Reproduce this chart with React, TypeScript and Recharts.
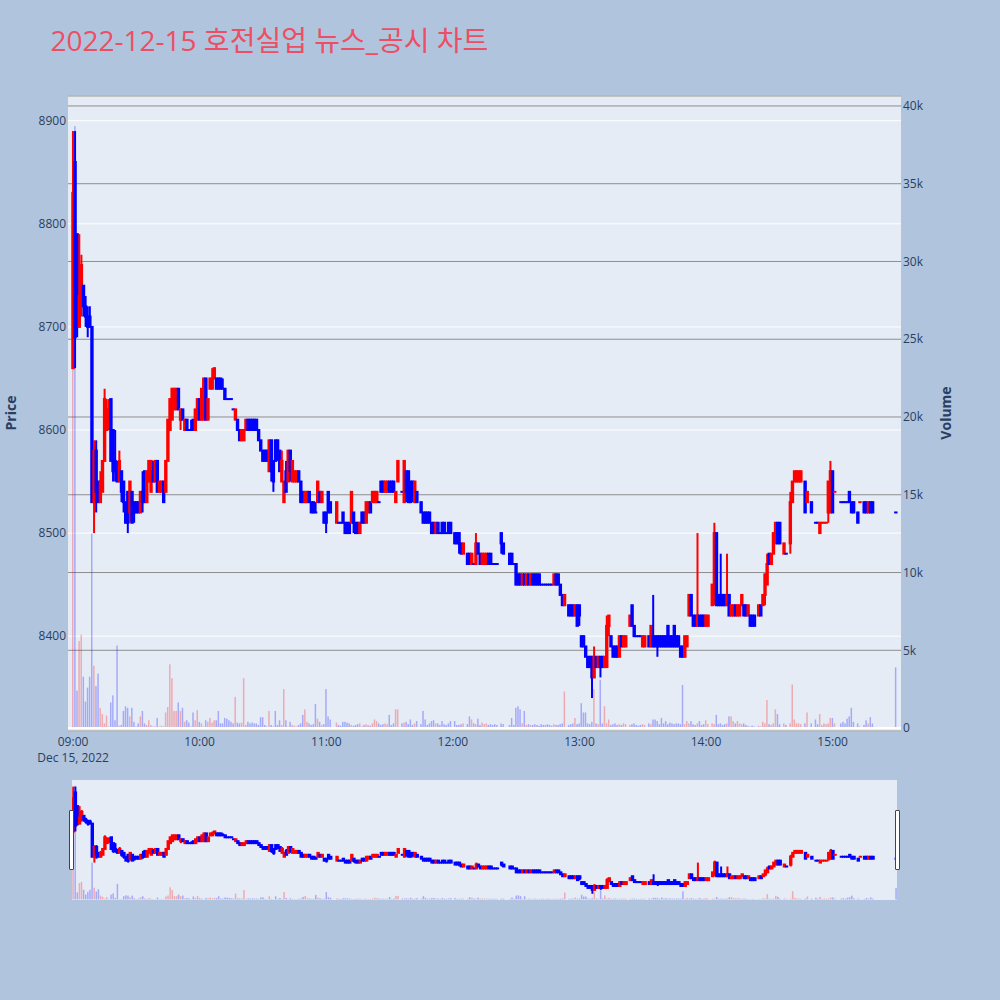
import React from 'react';
import { ComposedChart, Bar, XAxis, YAxis, CartesianGrid, ReferenceLine } from 'recharts';

// One entry per session minute, 09:00 (index 0) to the 15:30 close (index 390).
// null = no trade in that minute.
const opens: (number | null)[] = [
  8660, 8860, 8790, 8700, 8730, 8740, 8720, 8710, 8710, 8700, // 09:00
  8530, 8580, 8550, 8530, 8540, 8570, 8600, 8610, 8630, 8600,
  8570, 8560, 8550, 8560, 8550, 8530, 8540, 8520, 8540, 8530,
  8530, 8530, 8520, 8540, 8560, 8530, 8550, 8540, 8560, 8550,
  8570, 8540, 8540, 8550, 8540, 8570, 8600, 8610, 8620, 8620,
  8640, 8610, 8620, 8600, 8610, 8600, 8600, 8610, 8600, 8610,
  8630, 8610, 8610, 8650, 8610, 8640, 8640, 8650, 8650, 8650, // 10:00
  8650, 8640, 8640, 8630, 8630, 8630, 8620, 8610, 8610, 8600,
  8590, 8590, 8600, 8610, 8610, 8610, 8610, 8610, 8600, 8590,
  8580, 8580, 8580, 8560, 8590, 8570, 8590, 8590, 8580, 8550,
  8530, 8560, 8550, 8580, 8550, 8550, 8550, 8560, 8550, 8540,
  8530, 8530, 8540, 8530, 8530, 8520, 8530, 8540, 8530, 8520,
  8520, 8540, 8530, null, null, 8510, 8510, 8510, 8520, 8510, // 11:00
  8510, 8510, 8510, 8520, 8510, 8510, 8500, 8520, 8520, 8510,
  8520, 8530, 8530, 8530, 8530, 8530, 8550, 8550, 8540, 8540,
  8550, 8550, 8550, 8530, 8550, null, 8540, 8530, 8560, 8560,
  8550, 8550, 8530, 8540, null, 8530, 8520, 8520, 8520, 8520,
  8510, 8510, 8500, 8510, 8500, 8510, 8510, 8500, 8510, 8510,
  null, 8500, 8500, 8500, 8490, 8480, null, 8480, 8480, 8470, // 12:00
  8470, 8470, 8490, 8480, 8470, 8470, 8470, 8480, 8480, 8470,
  8470, 8470, null, 8500, 8490, null, null, 8480, 8480, 8470,
  8470, 8460, 8460, 8450, 8460, 8450, 8460, 8450, 8460, 8460,
  8460, 8460, 8450, 8450, 8450, 8450, 8450, 8450, 8450, 8460,
  8460, 8450, 8440, 8430, null, 8430, 8430, 8430, 8420, 8430,
  8430, 8400, 8400, 8390, 8380, 8380, 8380, 8360, 8380, 8370, // 13:00
  8380, 8380, 8370, 8370, 8410, 8400, 8390, 8390, 8390, 8380,
  8400, 8390, 8390, null, 8410, 8430, 8410, 8400, 8400, 8400,
  8390, 8390, null, 8400, 8390, 8400, 8400, 8400, 8400, 8400,
  8400, 8400, 8410, 8400, 8400, 8410, 8400, 8400, 8390, 8390,
  8380, 8390, 8420, 8440, 8420, 8420, 8410, 8420, 8420, 8420,
  8410, 8410, null, 8430, 8440, 8500, 8440, 8440, 8440, 8440, // 14:00
  8430, 8440, 8420, 8420, 8430, 8420, 8420, 8430, 8430, 8430,
  8420, 8420, 8420, 8420, null, 8420, 8430, 8430, 8440, 8450,
  8480, 8470, 8480, 8490, 8510, 8510, null, 8480, 8480, null,
  8490, 8530, 8550, 8550, 8550, 8550, null, 8550, 8530, null,
  8530, null, 8510, 8510, 8500, 8510, 8510, 8510, 8520, 8520,
  8560, 8540, null, null, 8530, 8530, 8530, 8530, 8540, 8530, // 15:00
  8530, null, 8520, 8530, null, 8530, 8530, 8520, 8530, 8530,
  null, null, null, null, null, null, null, null, null, null,
  8520,
];

const highs: (number | null)[] = [
  8890, 8890, 8790, 8790, 8770, 8740, 8730, 8720, 8720, 8700,
  8590, 8590, 8550, 8560, 8570, 8640, 8630, 8630, 8630, 8600,
  8600, 8570, 8580, 8560, 8550, 8530, 8540, 8550, 8540, 8530,
  8530, 8530, 8540, 8560, 8560, 8560, 8570, 8570, 8570, 8570,
  8570, 8550, 8550, 8550, 8570, 8610, 8630, 8640, 8640, 8640,
  8640, 8620, 8620, 8610, 8610, 8600, 8610, 8610, 8620, 8630,
  8630, 8640, 8650, 8650, 8630, 8650, 8660, 8660, 8650, 8650,
  8650, 8650, 8640, 8630, 8630, 8630, 8620, 8620, 8610, 8600,
  8600, 8600, 8610, 8610, 8610, 8610, 8610, 8610, 8600, 8590,
  8580, 8580, 8580, 8590, 8590, 8570, 8590, 8590, 8580, 8580,
  8550, 8570, 8580, 8580, 8570, 8560, 8560, 8560, 8550, 8540,
  8540, 8540, 8540, 8530, 8530, 8530, 8550, 8540, 8540, 8520,
  8520, 8540, 8530, null, null, 8530, 8510, 8510, 8520, 8510,
  8510, 8510, 8540, 8520, 8510, 8510, 8510, 8520, 8520, 8530,
  8530, 8530, 8540, 8540, 8540, 8530, 8550, 8550, 8550, 8550,
  8550, 8550, 8550, 8540, 8570, null, 8540, 8570, 8560, 8560,
  8550, 8550, 8550, 8540, null, 8530, 8520, 8520, 8520, 8520,
  8510, 8510, 8510, 8510, 8500, 8510, 8510, 8500, 8510, 8510,
  null, 8500, 8500, 8500, 8490, 8490, null, 8480, 8480, 8480,
  8470, 8500, 8490, 8480, 8480, 8480, 8480, 8480, 8480, 8470,
  8470, 8470, null, 8500, 8490, null, null, 8480, 8480, 8470,
  8470, 8460, 8460, 8460, 8460, 8460, 8460, 8460, 8460, 8460,
  8460, 8460, 8450, 8450, 8450, 8450, 8450, 8450, 8460, 8460,
  8460, 8450, 8440, 8440, null, 8430, 8430, 8430, 8430, 8430,
  8430, 8400, 8400, 8390, 8380, 8380, 8380, 8390, 8380, 8380,
  8380, 8380, 8380, 8420, 8420, 8400, 8390, 8390, 8390, 8400,
  8400, 8400, 8400, null, 8420, 8430, 8410, 8400, 8400, 8400,
  8400, 8400, null, 8400, 8410, 8440, 8400, 8400, 8400, 8400,
  8400, 8400, 8410, 8400, 8400, 8410, 8400, 8400, 8390, 8390,
  8400, 8400, 8440, 8440, 8420, 8420, 8500, 8420, 8420, 8420,
  8420, 8420, null, 8450, 8510, 8500, 8440, 8480, 8440, 8440,
  8480, 8440, 8430, 8430, 8430, 8430, 8430, 8440, 8430, 8430,
  8430, 8420, 8420, 8420, null, 8430, 8430, 8440, 8460, 8480,
  8480, 8480, 8500, 8510, 8510, 8510, null, 8490, 8480, null,
  8540, 8550, 8560, 8560, 8560, 8560, null, 8550, 8540, null,
  8530, null, 8510, 8510, 8510, 8510, 8510, 8510, 8550, 8570,
  8560, 8540, null, null, 8530, 8530, 8530, 8530, 8540, 8530,
  8530, null, 8520, 8530, null, 8530, 8530, 8530, 8530, 8530,
  null, null, null, null, null, null, null, null, null, null,
  8520,
];

const lows: (number | null)[] = [
  8660, 8660, 8690, 8700, 8710, 8710, 8700, 8690, 8700, 8530,
  8500, 8520, 8530, 8530, 8540, 8570, 8600, 8600, 8570, 8550,
  8550, 8550, 8550, 8530, 8520, 8510, 8500, 8510, 8510, 8510,
  8520, 8520, 8520, 8520, 8530, 8530, 8550, 8540, 8550, 8550,
  8540, 8540, 8540, 8530, 8540, 8570, 8600, 8610, 8620, 8620,
  8620, 8600, 8610, 8600, 8600, 8600, 8600, 8600, 8600, 8610,
  8610, 8610, 8610, 8610, 8610, 8640, 8640, 8650, 8640, 8640,
  8640, 8640, 8630, 8630, 8630, 8630, 8620, 8610, 8600, 8590,
  8590, 8590, 8600, 8600, 8600, 8600, 8600, 8600, 8590, 8580,
  8570, 8570, 8570, 8560, 8550, 8540, 8570, 8570, 8560, 8550,
  8530, 8540, 8550, 8550, 8550, 8550, 8550, 8550, 8530, 8530,
  8530, 8530, 8530, 8520, 8520, 8520, 8530, 8530, 8530, 8510,
  8500, 8520, 8520, null, null, 8510, 8510, 8510, 8510, 8500,
  8500, 8500, 8510, 8500, 8500, 8500, 8500, 8510, 8510, 8510,
  8520, 8520, 8530, 8530, 8530, 8530, 8540, 8540, 8540, 8540,
  8540, 8540, 8540, 8530, 8550, null, 8540, 8530, 8530, 8530,
  8530, 8530, 8530, 8530, null, 8520, 8510, 8510, 8510, 8510,
  8500, 8500, 8500, 8500, 8500, 8500, 8500, 8500, 8500, 8500,
  null, 8490, 8490, 8480, 8480, 8480, null, 8470, 8470, 8470,
  8470, 8470, 8480, 8470, 8470, 8470, 8470, 8470, 8470, 8470,
  8470, 8470, null, 8480, 8480, null, null, 8470, 8470, 8470,
  8450, 8450, 8450, 8450, 8450, 8450, 8450, 8450, 8450, 8450,
  8450, 8450, 8450, 8450, 8450, 8450, 8450, 8450, 8450, 8450,
  8450, 8440, 8430, 8430, null, 8420, 8420, 8420, 8420, 8410,
  8410, 8390, 8390, 8380, 8370, 8370, 8340, 8360, 8370, 8370,
  8360, 8370, 8370, 8370, 8400, 8390, 8380, 8380, 8380, 8380,
  8390, 8390, 8390, null, 8410, 8410, 8400, 8400, 8400, 8400,
  8390, 8390, null, 8390, 8390, 8390, 8390, 8380, 8390, 8390,
  8390, 8390, 8390, 8390, 8390, 8390, 8390, 8390, 8380, 8380,
  8380, 8390, 8420, 8420, 8410, 8410, 8410, 8410, 8410, 8410,
  8410, 8410, null, 8430, 8430, 8430, 8430, 8430, 8430, 8430,
  8430, 8420, 8420, 8420, 8420, 8420, 8420, 8430, 8420, 8420,
  8420, 8410, 8410, 8410, null, 8420, 8420, 8430, 8430, 8450,
  8470, 8470, 8480, 8490, 8490, 8490, null, 8480, 8480, null,
  8480, 8530, 8550, 8550, 8550, 8550, null, 8520, 8530, null,
  8520, null, 8510, 8510, 8500, 8510, 8510, 8510, 8510, 8520,
  8520, 8540, null, null, 8530, 8530, 8530, 8530, 8530, 8520,
  8520, null, 8510, 8530, null, 8520, 8520, 8520, 8520, 8520,
  null, null, null, null, null, null, null, null, null, null,
  8520,
];

const closes: (number | null)[] = [
  8830, 8690, 8700, 8730, 8760, 8720, 8710, 8700, 8700, 8530,
  8580, 8540, 8530, 8550, 8570, 8630, 8620, 8620, 8570, 8560,
  8560, 8550, 8570, 8540, 8530, 8510, 8510, 8550, 8510, 8520,
  8520, 8520, 8540, 8530, 8530, 8560, 8570, 8570, 8550, 8570,
  8540, 8550, 8550, 8530, 8570, 8610, 8630, 8640, 8640, 8640,
  8620, 8620, 8610, 8610, 8600, 8600, 8600, 8600, 8620, 8630,
  8610, 8640, 8650, 8610, 8630, 8650, 8650, 8660, 8640, 8640,
  8640, 8640, 8630, 8630, 8630, 8630, 8620, 8620, 8600, 8590,
  8600, 8600, 8610, 8600, 8600, 8600, 8600, 8600, 8590, 8580,
  8570, 8570, 8570, 8590, 8560, 8550, 8570, 8580, 8560, 8570,
  8550, 8540, 8580, 8560, 8570, 8560, 8560, 8550, 8530, 8530,
  8540, 8540, 8530, 8520, 8520, 8520, 8550, 8530, 8540, 8510,
  8510, 8520, 8520, null, null, 8530, 8510, 8510, 8510, 8500,
  8500, 8500, 8540, 8510, 8500, 8500, 8510, 8510, 8510, 8530,
  8530, 8520, 8540, 8540, 8540, 8530, 8540, 8540, 8550, 8550,
  8540, 8540, 8540, 8540, 8570, null, 8540, 8570, 8540, 8530,
  8530, 8540, 8550, 8530, null, 8520, 8510, 8510, 8510, 8510,
  8500, 8500, 8510, 8500, 8500, 8500, 8500, 8500, 8500, 8500,
  null, 8490, 8490, 8490, 8480, 8490, null, 8470, 8470, 8480,
  8470, 8490, 8480, 8470, 8480, 8480, 8480, 8470, 8470, 8470,
  8470, 8470, null, 8490, 8480, null, null, 8470, 8470, 8470,
  8450, 8450, 8450, 8460, 8450, 8460, 8450, 8460, 8450, 8450,
  8450, 8450, 8450, 8450, 8450, 8450, 8450, 8450, 8460, 8450,
  8450, 8440, 8430, 8440, null, 8420, 8420, 8420, 8430, 8410,
  8420, 8390, 8390, 8380, 8370, 8370, 8360, 8380, 8370, 8380,
  8370, 8370, 8380, 8410, 8420, 8390, 8380, 8380, 8380, 8400,
  8390, 8400, 8400, null, 8420, 8410, 8400, 8400, 8400, 8400,
  8400, 8400, null, 8390, 8410, 8390, 8390, 8390, 8390, 8390,
  8390, 8390, 8390, 8390, 8390, 8390, 8390, 8390, 8380, 8380,
  8400, 8400, 8440, 8420, 8410, 8410, 8420, 8410, 8410, 8410,
  8420, 8420, null, 8450, 8500, 8430, 8430, 8430, 8430, 8430,
  8440, 8420, 8430, 8430, 8420, 8430, 8430, 8440, 8420, 8420,
  8430, 8410, 8410, 8410, null, 8430, 8420, 8440, 8460, 8470,
  8470, 8480, 8500, 8510, 8490, 8490, null, 8490, 8480, null,
  8530, 8550, 8560, 8560, 8560, 8560, null, 8520, 8540, null,
  8520, null, 8510, 8510, 8510, 8510, 8510, 8510, 8550, 8560,
  8520, 8540, null, null, 8530, 8530, 8530, 8530, 8530, 8520,
  8520, null, 8510, 8530, null, 8520, 8520, 8530, 8520, 8520,
  null, null, null, null, null, null, null, null, null, null,
  8520,
];

const volumes: (number | null)[] = [
  38400, 38700, 2400, 5600, 6000, 3300, 1700, 2600, 3300, 12500,
  4000, 2700, 3500, 1300, 900, 300, 800, 100, 1650, 2100,
  500, 5300, 150, 200, 1100, 1400, 1300, 750, 1300, 400,
  100, 300, 750, 1100, 300, 200, 500, 200, 100, 100,
  650, 100, 150, 100, 1000, 1350, 4100, 3200, 1100, 1100,
  1650, 1100, 1300, 400, 500, 350, 100, 1000, 500, 1150,
  400, 300, 100, 500, 400, 650, 350, 500, 500, 1100,
  300, 300, 650, 600, 500, 400, 300, 2000, 350, 300,
  350, 3200, 200, 400, 300, 350, 300, 300, 200, 700,
  700, 200, 100, 1100, 200, 100, 1100, 200, 500, 200,
  2500, 500, 100, 400, 200, 150, 100, 200, 300, 850,
  1200, 400, 300, 200, 250, 1550, 600, 400, 200, 250,
  2500, 750, 550, null, null, 350, 200, 150, 400, 400,
  350, 300, 200, 150, 200, 250, 300, 100, 200, 250,
  200, 150, 300, 550, 450, 300, 200, 250, 300, 250,
  850, 200, 300, 1200, 1200, null, 300, 350, 400, 250,
  550, 200, 300, 450, null, 250, 1100, 550, 200, 300,
  450, 500, 300, 300, 200, 450, 250, 200, 300, 450,
  null, 450, 200, 200, 250, 300, null, 250, 750, 550,
  300, 250, 600, 200, 350, 250, 300, 200, 250, 200,
  250, 200, null, 300, 250, null, null, 200, 650, 200,
  1300, 1400, 1200, 300, 1100, 200, 250, 200, 200, 250,
  200, 150, 250, 200, 200, 250, 200, 150, 250, 200,
  200, 250, 300, 2350, null, 200, 250, 300, 650, 250,
  300, 1600, 1000, 1000, 300, 250, 400, 2500, 300, 250,
  3100, 300, 1400, 300, 550, 200, 250, 300, 200, 250,
  200, 300, 250, null, 200, 250, 300, 200, 150, 200,
  250, 200, null, 300, 250, 550, 550, 450, 250, 650,
  300, 450, 250, 350, 300, 250, 300, 300, 250, 2770,
  250, 450, 300, 450, 250, 200, 300, 450, 200, 250,
  500, 250, null, 300, 250, 850, 250, 300, 200, 250,
  300, 750, 750, 450, 300, 450, 300, 250, 300, 200,
  150, 100, 150, 100, null, 150, 100, 400, 300, 1800,
  250, 200, 300, 1200, 900, 250, null, 300, 200, null,
  300, 2800, 550, 300, 300, 250, null, 300, 1000, null,
  300, null, 550, 250, 900, 200, 300, 250, 300, 650,
  650, 300, null, null, 300, 400, 300, 600, 750, 1300,
  400, null, 300, 100, null, 200, 500, 300, 700, 300,
  null, null, null, null, null, null, null, null, null, null,
  3900,
];

const priceTicks = [8400, 8500, 8600, 8700, 8800, 8900];
const volumeTicks = [0, 5000, 10000, 15000, 20000, 25000, 30000, 35000, 40000];
const timeTicks = [0, 60, 120, 180, 240, 300, 360];
const timeLabels = ['09:00', '10:00', '11:00', '12:00', '13:00', '14:00', '15:00'];

const UP = '#ff0000';
const DOWN = '#0000ff';
const FONT = '"Open Sans", "Noto Sans CJK KR", sans-serif';
const INK = '#2a3f5f';

type Row = {
  t: number;
  open: number;
  high: number;
  low: number;
  close: number;
  range: [number, number];
  volume: number;
  up: boolean;
};

// flat minutes take their colour from the move against the previous close
const rows: Row[] = [];
let prevClose: number | null = null;
let prevUp = false;
opens.forEach((o, t) => {
  const h = highs[t];
  const l = lows[t];
  const c = closes[t];
  if (o == null || h == null || l == null || c == null) return;
  let up: boolean;
  if (c > o) up = true;
  else if (c < o) up = false;
  else if (prevClose != null && c !== prevClose) up = c > prevClose;
  else up = prevUp;
  rows.push({ t, open: o, high: h, low: l, close: c, range: [l, h], volume: volumes[t] ?? 0, up });
  prevClose = c;
  prevUp = up;
});

const BODY_W = 3.4;
const WICK_W = 2;

const Candle = (props: any) => {
  const { x, width, payload } = props;
  let { y, height } = props;
  if (!payload || y == null || Number.isNaN(y)) return null;
  if (height < 0) {
    y += height;
    height = -height;
  }
  const { open, close, high, low, up } = payload as Row;
  const color = up ? UP : DOWN;
  const cx = x + width / 2;
  const perUnit = high > low ? height / (high - low) : 0;
  const yOf = (v: number) => y + (high - v) * perUnit;
  const top = yOf(Math.max(open, close));
  const bottom = yOf(Math.min(open, close));
  return (
    <g>
      <rect x={cx - WICK_W / 2} y={y} width={WICK_W} height={Math.max(height, 0)} fill={color} />
      <rect x={cx - BODY_W / 2} y={top - 1} width={BODY_W} height={bottom - top + 2} fill={color} />
    </g>
  );
};

const VolumeBar = (props: any) => {
  const { x, y, width, height, payload } = props;
  if (!payload || !height) return null;
  const top = height < 0 ? y + height : y;
  return (
    <rect
      x={x}
      y={top}
      width={width}
      height={Math.abs(height)}
      fill={payload.up ? 'rgba(255,0,0,0.28)' : 'rgba(0,0,255,0.28)'}
    />
  );
};

const TimeTick = (props: any) => {
  const { x, y, payload } = props;
  const idx = timeTicks.indexOf(payload.value);
  return (
    <g>
      <text x={x} y={y + 8.5} textAnchor="middle" fontSize={12} fontFamily={FONT} fill={INK}>
        {timeLabels[idx]}
      </text>
      {payload.value === 0 && (
        <text x={x} y={y + 25} textAnchor="middle" fontSize={12} fontFamily={FONT} fill={INK}>
          Dec 15, 2022
        </text>
      )}
    </g>
  );
};

const tickStyle = { fill: INK, fontSize: 12, fontFamily: FONT };
const formatVolume = (v: number) => (v === 0 ? '0' : `${v / 1000}k`);

const MAIN_X: [number, number] = [-2.4, 392.4];
const SLIDER_X: [number, number] = [-0.66, 390.3];
const PRICE_Y: [number, number] = [8308, 8924];
const VOL_Y: [number, number] = [-190, 40640];

export default function App() {
  return (
    <div
      style={{
        position: 'absolute',
        left: 0,
        top: 0,
        width: 1000,
        height: 1000,
        background: '#b0c4de',
        overflow: 'hidden',
      }}
    >
      <div style={{ position: 'absolute', left: 0, top: 0 }}>
        <ComposedChart width={1000} height={800} data={rows} margin={{ top: 96, right: 39, bottom: 29, left: 8 }}>
          <XAxis
            xAxisId="a_time"
            dataKey="t"
            type="number"
            domain={MAIN_X}
            allowDataOverflow
            ticks={timeTicks}
            interval={0}
            tick={<TimeTick />}
            tickLine={false}
            axisLine={false}
            tickSize={0}
            tickMargin={6}
            height={40}
          />
          <XAxis xAxisId="b_candle" dataKey="t" type="number" domain={MAIN_X} allowDataOverflow hide height={0} />
          <YAxis
            yAxisId="price"
            orientation="left"
            type="number"
            domain={PRICE_Y}
            allowDataOverflow
            ticks={priceTicks}
            interval={0}
            width={60}
            tick={tickStyle}
            tickLine={false}
            axisLine={false}
            tickSize={0}
            tickMargin={2}
          />
          <YAxis
            yAxisId="vol"
            orientation="right"
            type="number"
            domain={VOL_Y}
            allowDataOverflow
            ticks={volumeTicks}
            interval={0}
            tickFormatter={formatVolume}
            width={60}
            tick={tickStyle}
            tickLine={false}
            axisLine={false}
            tickSize={0}
            tickMargin={2}
          />
          <CartesianGrid
            xAxisId="a_time"
            yAxisId="price"
            vertical={false}
            stroke="#ffffff"
            fill="#e5ecf6"
            fillOpacity={1}
          />
          <CartesianGrid xAxisId="a_time" yAxisId="vol" vertical={false} stroke="#8e8e8e" />
          <ReferenceLine xAxisId="a_time" yAxisId="vol" y={0} stroke="#ffffff" strokeWidth={2} />
          <Bar
            xAxisId="a_time"
            yAxisId="vol"
            dataKey="volume"
            barSize={1.5}
            shape={VolumeBar}
            isAnimationActive={false}
          />
          <Bar
            xAxisId="b_candle"
            yAxisId="price"
            dataKey="range"
            barSize={BODY_W}
            shape={Candle}
            isAnimationActive={false}
          />
        </ComposedChart>
      </div>

      {/* range slider: a miniature of the whole session */}
      <div style={{ position: 'absolute', left: 72, top: 780, width: 825, height: 120, background: '#e5ecf6' }} />
      <div style={{ position: 'absolute', left: 0, top: 780 }}>
        <ComposedChart width={1000} height={120} data={rows} margin={{ top: 0, right: 103, bottom: 0, left: 72 }}>
          <XAxis xAxisId="a_time" dataKey="t" type="number" domain={SLIDER_X} allowDataOverflow hide height={0} />
          <XAxis xAxisId="b_candle" dataKey="t" type="number" domain={SLIDER_X} allowDataOverflow hide height={0} />
          <YAxis yAxisId="price" type="number" domain={PRICE_Y} allowDataOverflow hide width={0} />
          <YAxis yAxisId="vol" type="number" domain={VOL_Y} allowDataOverflow hide width={0} />
          <Bar
            xAxisId="a_time"
            yAxisId="vol"
            dataKey="volume"
            barSize={1.5}
            shape={VolumeBar}
            isAnimationActive={false}
          />
          <Bar
            xAxisId="b_candle"
            yAxisId="price"
            dataKey="range"
            barSize={BODY_W}
            shape={Candle}
            isAnimationActive={false}
          />
        </ComposedChart>
      </div>
      <div
        style={{
          position: 'absolute',
          left: 69,
          top: 810,
          width: 3,
          height: 58,
          background: '#fff',
          border: '1px solid #444',
          borderRadius: 1,
        }}
      />
      <div
        style={{
          position: 'absolute',
          left: 895,
          top: 810,
          width: 3,
          height: 58,
          background: '#fff',
          border: '1px solid #444',
          borderRadius: 1,
        }}
      />

      <svg width={1000} height={1000} style={{ position: 'absolute', left: 0, top: 0, pointerEvents: 'none' }}>
        <text x={50.5} y={51} fontSize={28} fontFamily={FONT} fill="#ec4f63">
          2022-12-15 호전실업 뉴스_공시 차트
        </text>
        <text
          x={10}
          y={413}
          transform="rotate(-90 10 413)"
          textAnchor="middle"
          dominantBaseline="central"
          fontSize={14}
          fontWeight="bold"
          fontFamily={FONT}
          fill={INK}
        >
          Price
        </text>
        <text
          x={945}
          y={413}
          transform="rotate(-90 945 413)"
          textAnchor="middle"
          dominantBaseline="central"
          fontSize={14}
          fontWeight="bold"
          fontFamily={FONT}
          fill={INK}
        >
          Volume
        </text>
      </svg>
    </div>
  );
}
